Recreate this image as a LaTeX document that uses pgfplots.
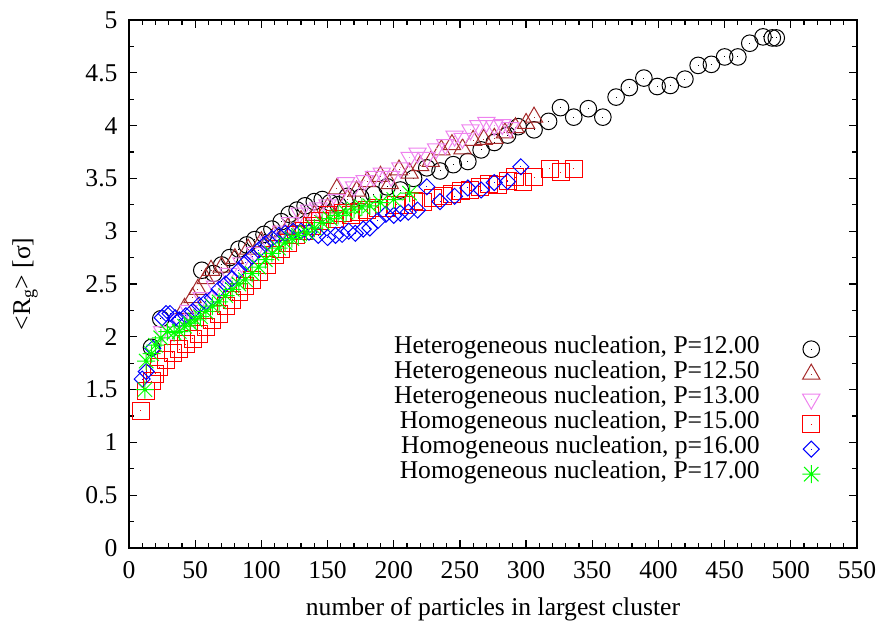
\documentclass[border=0pt]{standalone}
\usepackage{fontspec}
\setmainfont{Liberation Serif}
\usepackage{pgfplots}
\pgfplotsset{compat=1.18}

\definecolor{gpbrown}{RGB}{165,42,42}
\definecolor{gpviolet}{RGB}{238,130,238}
\definecolor{gpgreen}{RGB}{0,255,0}

\newcommand{\gpdot}{\pgfpathrectangle{\pgfqpoint{-0.5pt}{-0.5pt}}{\pgfqpoint{1pt}{1pt}}\pgfusepathqfill}
\pgfdeclareplotmark{gpcirc}{%
  \pgfpathcircle{\pgfpointorigin}{\pgfplotmarksize}\pgfusepathqstroke\gpdot}
\pgfdeclareplotmark{gptriu}{%
  \pgfpathmoveto{\pgfqpoint{0pt}{\pgfplotmarksize}}%
  \pgfpathlineto{\pgfqpoint{-0.866\pgfplotmarksize}{-0.5\pgfplotmarksize}}%
  \pgfpathlineto{\pgfqpoint{0.866\pgfplotmarksize}{-0.5\pgfplotmarksize}}%
  \pgfpathclose\pgfusepathqstroke\gpdot}
\pgfdeclareplotmark{gptrid}{%
  \pgfpathmoveto{\pgfqpoint{0pt}{-\pgfplotmarksize}}%
  \pgfpathlineto{\pgfqpoint{-0.866\pgfplotmarksize}{0.5\pgfplotmarksize}}%
  \pgfpathlineto{\pgfqpoint{0.866\pgfplotmarksize}{0.5\pgfplotmarksize}}%
  \pgfpathclose\pgfusepathqstroke\gpdot}
\pgfdeclareplotmark{gpsq}{%
  \pgfpathrectangle{\pgfqpoint{-\pgfplotmarksize}{-\pgfplotmarksize}}{\pgfqpoint{2\pgfplotmarksize}{2\pgfplotmarksize}}\pgfusepathqstroke\gpdot}
\pgfdeclareplotmark{gpdia}{%
  \pgfpathmoveto{\pgfqpoint{\pgfplotmarksize}{0pt}}%
  \pgfpathlineto{\pgfqpoint{0pt}{\pgfplotmarksize}}%
  \pgfpathlineto{\pgfqpoint{-\pgfplotmarksize}{0pt}}%
  \pgfpathlineto{\pgfqpoint{0pt}{-\pgfplotmarksize}}%
  \pgfpathclose\pgfusepathqstroke\gpdot}
\pgfdeclareplotmark{gpstar}{%
  \pgfpathmoveto{\pgfqpoint{-\pgfplotmarksize}{0pt}}\pgfpathlineto{\pgfqpoint{\pgfplotmarksize}{0pt}}%
  \pgfpathmoveto{\pgfqpoint{0pt}{-\pgfplotmarksize}}\pgfpathlineto{\pgfqpoint{0pt}{\pgfplotmarksize}}%
  \pgfpathmoveto{\pgfqpoint{-0.8\pgfplotmarksize}{-0.8\pgfplotmarksize}}\pgfpathlineto{\pgfqpoint{0.8\pgfplotmarksize}{0.8\pgfplotmarksize}}%
  \pgfpathmoveto{\pgfqpoint{-0.8\pgfplotmarksize}{0.8\pgfplotmarksize}}\pgfpathlineto{\pgfqpoint{0.8\pgfplotmarksize}{-0.8\pgfplotmarksize}}%
  \pgfusepathqstroke}

\newcommand{\bigf}{\fontsize{25.6}{25.6}\selectfont}

\begin{document}
\begin{tikzpicture}
\begin{axis}[
  at={(0pt,0pt)}, anchor=south west,
  scale only axis, width=728pt, height=528pt,
  xmin=0, xmax=550, ymin=0, ymax=5,
  xtick={0,50,...,550}, ytick={0,0.5,...,5},
  minor x tick num=4, minor y tick num=1,
  tick align=inside, major tick length=8pt, minor tick length=5pt,
  axis line style={line width=1.2pt}, every tick/.style={black, line width=1.2pt},
  /pgf/number format/assume math mode=true,
  tick label style={font=\bigf},
  xticklabel style={yshift=-10pt},
  yticklabel style={xshift=-8pt},
  label style={font=\bigf},
  xlabel={number of particles in largest cluster},
  ylabel={<R\textsubscript{g}> [σ]},
  xlabel style={at={(axis description cs:0.5,-0.1155)}, anchor=center},
  ylabel style={at={(axis description cs:-0.1429,0.5)}, anchor=center, rotate=0},
  legend plot pos=right,
  legend cell align=right,
  legend style={draw=none, fill=none, font=\bigf, inner sep=0pt,
    at={(axis description cs:0.9505,0.4006)}, anchor=north east,
    nodes={inner sep=0pt, text height=17pt, text depth=8pt}},
  legend image code/.code={\path (0pt,0pt) (60pt,0pt); \draw[#1, only marks] plot coordinates {(51pt,0pt)};},
]
\addplot[black, only marks, mark=gpcirc, mark size=8.3pt, line width=1pt] coordinates {
(17,1.90) (24,2.17) (55,2.63) (64,2.60) (70,2.68) (76,2.75) (83,2.83) (89,2.87)
(95,2.92) (102,2.97) (108,3.02) (115,3.09) (121,3.16) (127,3.20) (133,3.24)
(140,3.28) (146,3.30) (152,3.27) (158,3.25) (165,3.33) (175,3.32) (185,3.35)
(195,3.42) (205,3.39) (215,3.50) (225,3.60) (235,3.57) (245,3.63) (256,3.66)
(266,3.77) (276,3.84) (286,3.91) (294,3.99) (306,3.96) (317,4.04) (326,4.17)
(336,4.08) (347,4.16) (358,4.08) (368,4.27) (378,4.36) (389,4.45) (399,4.37)
(409,4.38) (420,4.44) (430,4.57) (440,4.58) (450,4.65) (460,4.65) (469,4.78)
(479,4.84) (486,4.83) (489,4.83)
};
\addlegendentry{Heterogeneous nucleation, P=12.00}
\addplot[gpbrown, only marks, mark=gptriu, mark size=10pt, line width=1pt] coordinates {
(42,2.27) (48,2.37) (52,2.45) (58,2.55) (62,2.63) (70,2.66) (80,2.74) (90,2.83)
(100,2.90) (110,2.96) (120,3.03) (130,3.10) (140,3.15) (150,3.22) (157,3.40)
(165,3.30) (172,3.38) (180,3.47) (190,3.52) (197,3.45) (204,3.58) (212,3.55)
(220,3.62) (228,3.66) (236,3.77) (244,3.82) (252,3.78) (260,3.86) (268,3.87)
(276,3.88) (284,3.93) (292,3.98) (300,4.02) (306,4.08)
};
\addlegendentry{Heterogeneous nucleation, P=12.50}
\addplot[gpviolet, only marks, mark=gptrid, mark size=10pt, line width=1pt] coordinates {
(25,2.05) (32,2.05) (38,2.16) (45,2.25) (55,2.37) (65,2.48) (75,2.60) (85,2.70)
(95,2.80) (105,2.90) (115,3.00) (122,3.08) (129,3.17) (136,3.20) (143,3.22)
(150,3.25) (157,3.30) (164,3.46) (170,3.42) (178,3.48) (185,3.52) (191,3.55)
(198,3.52) (205,3.60) (212,3.70) (218,3.74) (225,3.70) (232,3.78) (239,3.82)
(246,3.90) (252,3.88) (258,3.96) (264,4.00) (270,4.03) (276,4.00) (282,4.01)
(288,3.98)
};
\addlegendentry{Heterogeneous nucleation, P=13.00}
\addplot[red, only marks, mark=gpsq, mark size=8.5pt, line width=1pt] coordinates {
(9,1.30) (13,1.49) (17,1.58) (20,1.65) (23,1.71) (28,1.78) (33,1.85) (38,1.88)
(43,1.93) (48,1.98) (53,2.03) (58,2.09) (63,2.16) (68,2.22) (73,2.29) (78,2.35)
(83,2.42) (88,2.48) (93,2.54) (98,2.61) (104,2.68) (110,2.77) (115,2.83)
(120,2.89) (126,2.96) (132,3.00) (138,3.05) (144,3.10) (150,3.15) (156,3.12)
(162,3.17) (168,3.15) (174,3.18) (180,3.20) (188,3.22) (195,3.22) (202,3.25)
(208,3.25) (215,3.29) (222,3.28) (230,3.31) (237,3.33) (244,3.35) (251,3.38)
(258,3.39) (265,3.42) (272,3.45) (279,3.44) (286,3.48) (292,3.51) (298,3.47)
(306,3.51) (318,3.59) (326,3.56) (336,3.59)
};
\addlegendentry{Homogeneous nucleation, P=15.00}
\addplot[blue, only marks, mark=gpdia, mark size=8pt, line width=1pt] coordinates {
(10,1.60) (13,1.67) (18,1.89) (25,2.18) (28,2.22) (31,2.22) (35,2.18) (38,2.16)
(43,2.20) (48,2.24) (53,2.30) (58,2.33) (63,2.37) (68,2.45) (73,2.50) (78,2.55)
(83,2.63) (88,2.70) (93,2.76) (98,2.82) (103,2.88) (108,2.93) (113,2.96)
(118,2.98) (124,3.00) (130,3.00) (136,2.99) (143,2.96) (150,2.94) (156,2.96)
(161,2.97) (166,3.00) (171,2.98) (177,3.02) (182,3.03) (188,3.10) (194,3.16)
(200,3.15) (205,3.17) (211,3.18) (218,3.20) (225,3.42) (235,3.28) (246,3.33)
(256,3.41) (266,3.39) (276,3.46) (286,3.47) (296,3.61)
};
\addlegendentry{Homogeneous nucleation, p=16.00}
\addplot[gpgreen, only marks, mark=gpstar, mark size=9pt, line width=1pt] coordinates {
(12,1.50) (13,1.77) (17,1.84) (20,1.92) (24,1.99) (29,2.05) (34,2.04) (38,2.05)
(42,2.10) (46,2.13) (50,2.16) (54,2.19) (58,2.24) (63,2.29) (68,2.33) (73,2.39)
(78,2.45) (83,2.50) (88,2.54) (93,2.60) (98,2.66) (103,2.73) (108,2.79)
(113,2.84) (118,2.89) (123,2.93) (128,2.96) (134,2.99) (140,3.03) (146,3.08)
(152,3.12) (158,3.15) (164,3.18) (170,3.21) (176,3.23) (182,3.24) (190,3.27)
(200,3.30) (212,3.36)
};
\addlegendentry{Homogeneous nucleation, P=17.00}
\end{axis}
\pgfresetboundingbox
\path (-129pt,-80pt) rectangle (766pt,548pt);
\end{tikzpicture}
\end{document}
